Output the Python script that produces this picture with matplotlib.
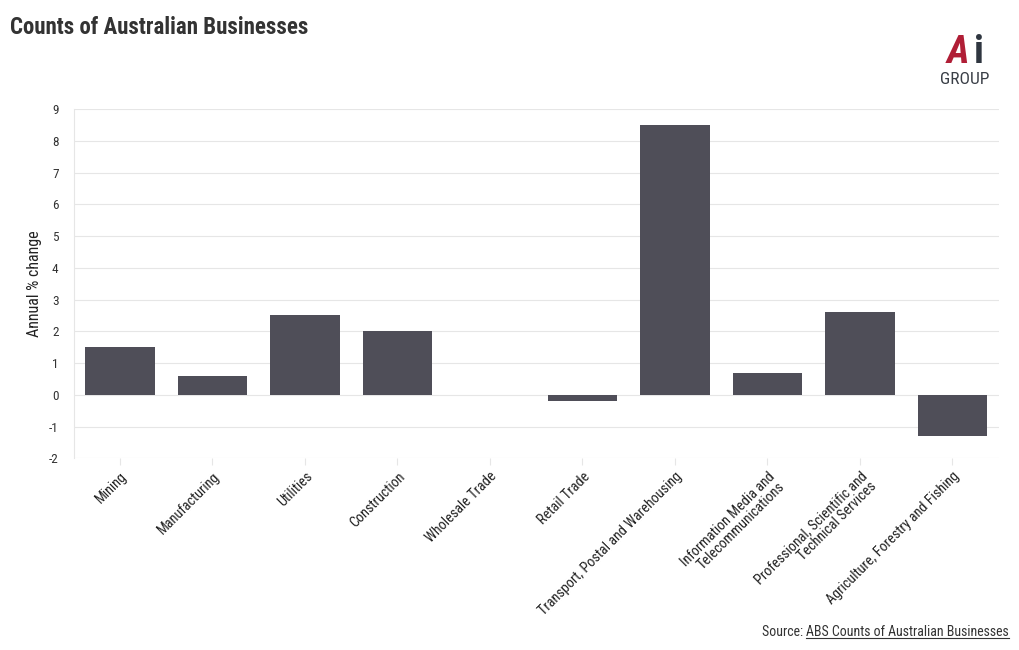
import matplotlib
matplotlib.use("Agg")
import matplotlib.pyplot as plt
from matplotlib import font_manager

# data
industries = ["Mining", "Manufacturing", "Utilities", "Construction", "Wholesale Trade",
              "Retail Trade", "Transport, Postal and Warehousing",
              "Information Media and\nTelecommunications",
              "Professional, Scientific and\nTechnical Services",
              "Agriculture, Forestry and Fishing"]
annual_change = [1.5, 0.6, 2.5, 2.0, 0.0, -0.2, 8.5, 0.7, 2.6, -1.3]
y_ticks = list(range(-2, 10))

names = {f.name for f in font_manager.fontManager.ttflist}
fam = [f for f in ["Roboto Condensed", "Roboto", "DejaVu Sans"] if f in names]
plt.rcParams['font.family'] = fam

text_col = "#333333"
bar_col = "#4f4e58"
grid_col = "#e6e6e6"

fig = plt.figure(figsize=(10.2, 6.5), dpi=100)
ax = fig.add_axes([0.0723, 0.295, 0.9067, 0.537])

x = range(len(industries))
ax.bar(x, annual_change, width=0.75, color=bar_col, zorder=3)

ax.set_xlim(-0.5, len(industries) - 0.5)
ax.set_ylim(-2, 9)
ax.set_yticks(y_ticks)
ax.set_yticklabels([str(v) for v in y_ticks], fontsize=9.5, color=text_col)
ax.set_xticks(list(x))
ax.set_xticklabels(industries, rotation=45, ha="right", va="top",
                   rotation_mode="anchor", fontsize=10.3, color="#222222",
                   linespacing=1.0)
ax.grid(axis="y", color=grid_col, linewidth=0.8, zorder=0)
for s in ["top", "right", "bottom"]:
    ax.spines[s].set_visible(False)
ax.spines["left"].set_color(grid_col)
ax.tick_params(axis="y", length=0, pad=11)
ax.tick_params(axis="x", length=5, color=grid_col, pad=3)
ax.set_ylabel("Annual % change", fontsize=11.5, color="#222222", labelpad=5)

fig.text(0.01, 0.958, "Counts of Australian Businesses", fontsize=16.5,
         fontweight="bold", color=text_col, va="center", ha="left")

# logo
fig.text(0.939, 0.903, "A", fontsize=28, fontweight="bold", color="#b01e36",
         ha="center", va="baseline", style="italic")
fig.text(0.960, 0.903, "i", fontsize=28, fontweight="bold", color="#2f3640",
         ha="center", va="baseline")
fig.text(0.946, 0.878, "GROUP", fontsize=12.5, color="#3a3f47", ha="center",
         va="center")

fig.text(0.989, 0.028, "Source: ", fontsize=10, color=text_col, ha="right", va="center")
src = fig.text(0.989, 0.028, "ABS Counts of Australian Businesses", fontsize=10,
               color=text_col, ha="right", va="center")
fig.canvas.draw()
bb = src.get_window_extent()
inv = fig.transFigure.inverted()
(x0, y0), (x1, y1) = inv.transform([(bb.x0, bb.y0), (bb.x1, bb.y1)])
fig.texts[-2].set_position((x0, 0.028))
fig.add_artist(plt.Line2D([x0, x1], [y0 + 0.002, y0 + 0.002], color=text_col,
                          linewidth=0.8, transform=fig.transFigure))

fig.savefig("out.png", dpi=100, facecolor="white")
